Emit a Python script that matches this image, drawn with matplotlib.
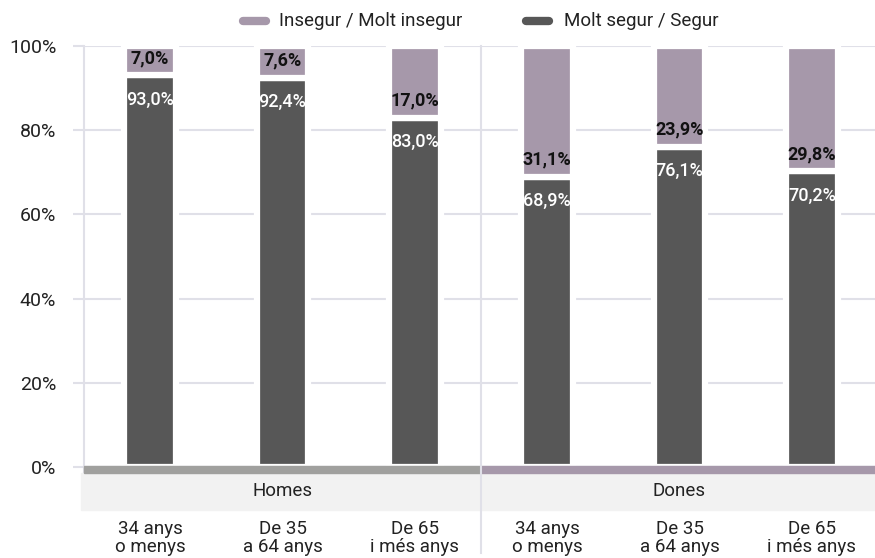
import numpy as np
import matplotlib.pyplot as plt
from matplotlib.patches import Rectangle
from matplotlib.lines import Line2D

plt.rcParams['font.family'] = ['Roboto', 'DejaVu Sans']

groups = ['Homes', 'Dones']
ages = ['34 anys\no menys', 'De 35\na 64 anys', 'De 65\ni més anys'] * 2
segur = [93.0, 92.4, 83.0, 68.9, 76.1, 70.2]
insegur = [7.0, 7.6, 17.0, 31.1, 23.9, 29.8]

dark = '#575757'
light = '#a698aa'
grid_c = '#e0e0e8'

W, H = 875, 558
fig = plt.figure(figsize=(W / 100, H / 100), dpi=100)
ax = fig.add_axes([84 / W, 1 - 467 / H, 794 / W, 421 / H])

x = np.arange(len(segur))
bw = 0.39
ax.bar(x, segur, bw, color=dark, edgecolor='white', linewidth=4.5, zorder=3)
ax.bar(x, insegur, bw, bottom=segur, color=light, edgecolor='white', linewidth=4.5, zorder=3)

for xi, s, i in zip(x, segur, insegur):
    ax.annotate(f"{s:.1f}%".replace('.', ','), (xi, s), xytext=(0, -11), textcoords='offset points',
                ha='center', va='top', color='white', fontsize=13, fontweight='medium', zorder=5)
    ax.annotate(f"{i:.1f}%".replace('.', ','), (xi, s), xytext=(0, 6), textcoords='offset points',
                ha='center', va='bottom', color='#111111', fontsize=13, fontweight='bold', zorder=5)

ax.set_xlim(-0.5, 5.5)
ax.set_ylim(0, 100)
ax.set_yticks(np.arange(0, 101, 20))
ax.set_yticklabels([f"{v}%" for v in range(0, 101, 20)], fontsize=14, color='#222222')
ax.set_xticks([])
ax.tick_params(axis='y', length=8, width=1.5, color=grid_c, pad=12)
ax.grid(axis='y', color=grid_c, linewidth=1.5, zorder=0)
ax.set_axisbelow(True)
for sp in ax.spines.values():
    sp.set_visible(False)

tr = ax.get_xaxis_transform()
px = 1 / 421
# left axis line and group separator
ax.add_line(Line2D([-0.5, -0.5], [1, -15 * px], transform=tr, color=grid_c, lw=1.5, clip_on=False, zorder=1))
ax.add_line(Line2D([2.5, 2.5], [1, -86 * px], transform=tr, color=grid_c, lw=1.5, clip_on=False, zorder=6))

# bottom bands
ax.add_patch(Rectangle((-0.52, -43 * px), 6.1, 37 * px, transform=tr, color='#f2f2f2', clip_on=False, zorder=2))
ax.add_patch(Rectangle((-0.5, -6 * px), 3.0, 7 * px, transform=tr, color='#a0a09e', clip_on=False, zorder=4))
ax.add_patch(Rectangle((2.5, -6 * px), 3.1, 7 * px, transform=tr, color=light, clip_on=False, zorder=4))

for gi, g in enumerate(groups):
    ax.text(1 + 3 * gi, -24 * px, g, transform=tr, ha='center', va='center', fontsize=13.5, color='#222222')
for xi, a in zip(x, ages):
    ax.text(xi, -71 * px, a, transform=tr, ha='center', va='center', fontsize=13.5,
            color='#222222', linespacing=1.0)

# legend
def fx(p):
    return p / W

def fy(p):
    return 1 - p / H

fig.add_artist(Line2D([fx(243), fx(266)], [fy(21), fy(21)], color=light, lw=6, solid_capstyle='round'))
fig.text(fx(279), fy(21), 'Insegur / Molt insegur', ha='left', va='center', fontsize=13.5, color='#222222')
fig.add_artist(Line2D([fx(526), fx(549)], [fy(21), fy(21)], color=dark, lw=6, solid_capstyle='round'))
fig.text(fx(564), fy(21), 'Molt segur / Segur', ha='left', va='center', fontsize=13.5, color='#222222')

fig.savefig('out.png', dpi=100)
